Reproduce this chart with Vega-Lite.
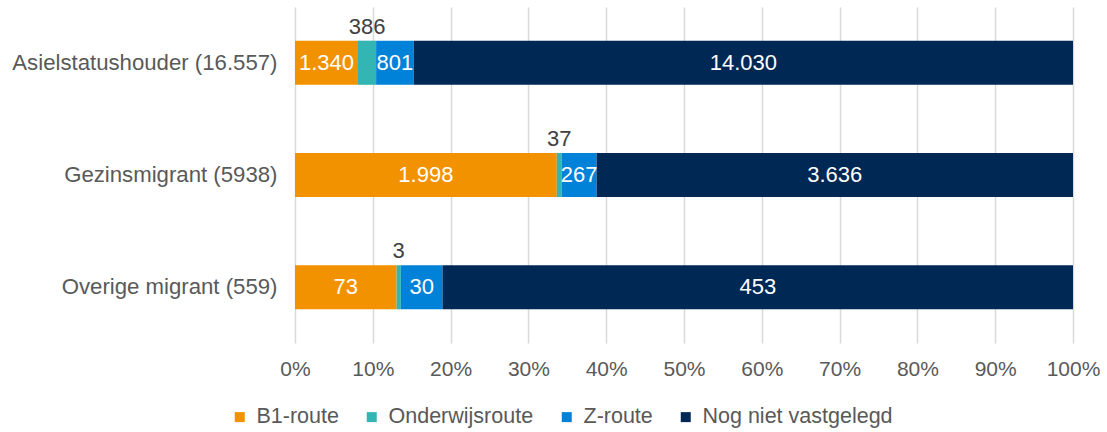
{
  "$schema": "https://vega.github.io/schema/vega-lite/v6.json",
  "width": 778,
  "height": 336,
  "autosize": "none",
  "padding": {"left": 295, "top": 7, "right": 34, "bottom": 89},
  "background": "white",
  "config": {
    "font": "Liberation Sans",
    "view": {"stroke": null}
  },
  "data": {
    "values": [
      {"groep": "Asielstatushouder (16.557)", "route": "B1-route", "aantal": 1340, "label": "1.340"},
      {"groep": "Asielstatushouder (16.557)", "route": "Onderwijsroute", "aantal": 386, "label": "386"},
      {"groep": "Asielstatushouder (16.557)", "route": "Z-route", "aantal": 801, "label": "801"},
      {"groep": "Asielstatushouder (16.557)", "route": "Nog niet vastgelegd", "aantal": 14030, "label": "14.030"},
      {"groep": "Gezinsmigrant (5938)", "route": "B1-route", "aantal": 1998, "label": "1.998"},
      {"groep": "Gezinsmigrant (5938)", "route": "Onderwijsroute", "aantal": 37, "label": "37"},
      {"groep": "Gezinsmigrant (5938)", "route": "Z-route", "aantal": 267, "label": "267"},
      {"groep": "Gezinsmigrant (5938)", "route": "Nog niet vastgelegd", "aantal": 3636, "label": "3.636"},
      {"groep": "Overige migrant (559)", "route": "B1-route", "aantal": 73, "label": "73"},
      {"groep": "Overige migrant (559)", "route": "Onderwijsroute", "aantal": 3, "label": "3"},
      {"groep": "Overige migrant (559)", "route": "Z-route", "aantal": 30, "label": "30"},
      {"groep": "Overige migrant (559)", "route": "Nog niet vastgelegd", "aantal": 453, "label": "453"}
    ]
  },
  "transform": [
    {"calculate": "indexof(['B1-route','Onderwijsroute','Z-route','Nog niet vastgelegd'], datum.route)", "as": "volgorde"},
    {"stack": "aantal", "groupby": ["groep"], "sort": [{"field": "volgorde", "order": "ascending"}], "offset": "normalize", "as": ["x0", "x1"]},
    {"calculate": "(datum.x0 + datum.x1) / 2", "as": "xm"}
  ],
  "encoding": {
    "y": {
      "field": "groep",
      "type": "nominal",
      "sort": ["Asielstatushouder (16.557)", "Gezinsmigrant (5938)", "Overige migrant (559)"],
      "scale": {"paddingInner": 0.607, "paddingOuter": 0.3},
      "axis": {
        "title": null,
        "domain": false,
        "ticks": false,
        "labelFontSize": 22.2,
        "labelColor": "#595959",
        "labelPadding": 18,
        "labelLimit": 400,
        "grid": false
      }
    }
  },
  "layer": [
    {
      "mark": {"type": "bar"},
      "encoding": {
        "x": {
          "field": "x0",
          "type": "quantitative",
          "scale": {"domain": [0, 1], "nice": false},
          "axis": {
            "title": null,
            "format": ".0%",
            "values": [0, 0.1, 0.2, 0.3, 0.4, 0.5, 0.6, 0.7, 0.8, 0.9, 1],
            "domain": false,
            "ticks": false,
            "grid": true,
            "gridColor": "#d9d9d9",
            "gridWidth": 1.5,
            "labelFontSize": 21,
            "labelColor": "#595959",
            "labelPadding": 15,
            "labelFlush": false,
            "labelOverlap": false,
            "labelBound": false
          }
        },
        "x2": {"field": "x1"},
        "color": {
          "field": "route",
          "type": "nominal",
          "scale": {
            "domain": ["B1-route", "Onderwijsroute", "Z-route", "Nog niet vastgelegd"],
            "range": ["#F39200", "#33B5B3", "#0082D8", "#002855"]
          },
          "legend": {
            "title": null,
            "orient": "none",
            "legendX": -66,
            "legendY": 399,
            "direction": "horizontal",
            "symbolType": "square",
            "symbolSize": 100,
            "symbolStrokeWidth": 0,
            "labelFontSize": 21.5,
            "labelColor": "#595959",
            "labelLimit": 400,
            "columnPadding": 22,
            "labelOffset": 6
          }
        }
      }
    },
    {
      "transform": [{"filter": "datum.route != 'Onderwijsroute'"}],
      "mark": {"type": "text", "color": "white", "fontSize": 22, "baseline": "middle", "align": "center"},
      "encoding": {
        "x": {"field": "xm", "type": "quantitative"},
        "text": {"field": "label"}
      }
    },
    {
      "transform": [{"filter": "datum.route == 'Onderwijsroute'"}],
      "mark": {"type": "text", "color": "#404040", "fontSize": 22, "baseline": "middle", "align": "center", "dy": -36},
      "encoding": {
        "x": {"field": "xm", "type": "quantitative"},
        "text": {"field": "label"}
      }
    }
  ]
}
